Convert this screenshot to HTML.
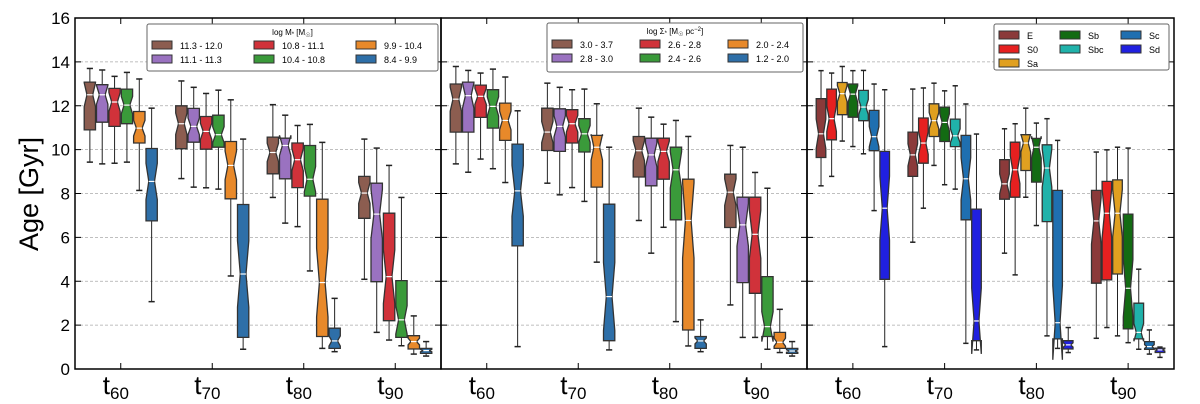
<!DOCTYPE html>
<html><head><meta charset="utf-8"><style>
body{margin:0;background:#fff;}
svg{display:block;font-family:"Liberation Sans","DejaVu Sans",sans-serif;}
</style></head><body>
<svg id="chart" width="1200" height="404" viewBox="0 0 1200 404"></svg>
<script>
// ---- data: [whiskerLow, q1, median, q3, whiskerHigh] per group (t60,t70,t80,t90) per series ----
const categories = ["60","70","80","90"];
const massLabels = ["11.3 - 12.0","11.1 - 11.3","10.8 - 11.1","10.4 - 10.8","9.9 - 10.4","8.4 - 9.9"];
const massData = [
 [[9.43,10.9,12.5,13.08,13.7],[8.68,10.04,11.18,12.0,13.13],[7.82,8.9,9.87,10.57,12.05],[4.09,6.87,8.02,8.78,10.48]],
 [[9.35,11.25,12.5,12.96,13.63],[8.29,10.34,11.06,11.88,12.84],[6.65,8.67,10.19,10.52,11.57],[1.67,3.98,7.06,8.47,10.07]],
 [[9.38,11.06,12.17,12.79,13.34],[8.26,10.02,10.83,11.51,12.56],[6.49,8.27,9.54,10.3,11.1],[1.32,2.2,4.21,7.1,9.28]],
 [[9.43,11.18,12.03,12.76,13.52],[8.2,10.11,10.68,11.57,12.71],[4.47,7.88,8.65,10.19,11.15],[1.06,1.44,2.24,4.03,7.82]],
 [[8.14,10.3,10.98,11.74,13.22],[4.24,7.76,9.28,10.37,12.27],[0.94,1.48,3.94,7.74,10.33],[0.68,0.91,1.25,1.52,2.42]],
 [[3.07,6.75,8.55,10.05,11.89],[0.9,1.44,4.33,7.5,10.48],[0.79,0.94,1.28,1.86,3.22],[0.59,0.71,0.84,0.94,1.25]]
];
const densLabels = ["3.0 - 3.7","2.8 - 3.0","2.6 - 2.8","2.4 - 2.6","2.0 - 2.4","1.2 - 2.0"];
const densData = [
 [[9.35,10.8,12.3,12.99,13.79],[8.47,9.96,10.8,11.89,13.03],[6.77,8.75,9.95,10.6,11.89],[2.92,6.45,8.06,8.88,10.19]],
 [[8.97,10.8,12.46,13.08,13.61],[7.94,9.92,11.06,11.86,12.84],[5.28,8.35,9.76,10.52,11.48],[1.44,3.94,6.57,7.83,10.11]],
 [[9.57,11.47,12.43,12.94,13.49],[8.27,10.3,11.18,11.82,12.73],[6.46,8.65,9.92,10.52,11.16],[1.44,3.45,6.14,7.83,8.96]],
 [[9.13,10.98,11.97,12.73,13.67],[7.64,9.89,10.72,11.41,12.76],[2.16,6.8,9.08,10.11,11.33],[0.9,1.48,1.93,4.21,8.24]],
 [[8.5,10.42,11.33,12.12,13.31],[4.87,8.29,10.11,10.65,12.09],[1.05,1.78,6.77,8.65,10.6],[0.75,0.94,1.22,1.67,2.72]],
 [[1.02,5.61,8.12,10.25,11.77],[0.87,1.29,3.3,7.51,10.11],[0.79,0.94,1.28,1.48,2.24],[0.59,0.71,0.82,0.94,1.25]]
];
const morphLabels = ["E","S0","Sa","Sb","Sbc","Sc","Sd"];
const morphData = [
 [[8.35,9.64,10.72,12.32,13.6],[5.78,8.78,9.76,10.8,12.76],[5.28,7.74,8.44,9.54,10.95],[1.4,3.91,6.75,8.14,9.89]],
 [[8.78,10.45,11.41,12.76,13.49],[7.33,9.38,10.3,11.44,12.81],[4.29,7.83,9.08,10.34,11.18],[1.89,4.06,7.1,8.55,9.99]],
 [[10.39,11.59,12.55,13.06,13.79],[9.28,10.6,11.32,12.09,13.03],[7.83,9.05,10.3,10.68,11.89],[1.51,4.33,7.1,8.62,10.11]],
 [[10.14,11.48,12.53,12.99,13.6],[8.4,10.37,11.24,11.94,12.68],[6.54,8.52,10.11,10.51,11.21],[1.2,1.83,3.68,7.06,10.07]],
 [[9.81,11.32,11.94,12.7,13.61],[8.2,10.14,10.63,11.39,12.91],[1.51,6.72,9.16,10.22,11.41],[0.9,1.37,1.67,3.0,4.55]],
 [[7.22,9.95,10.59,11.79,12.99],[1.17,6.8,8.67,10.65,12.08],[0.94,1.37,2.11,8.14,10.42],[0.68,0.9,1.02,1.25,1.78]],
 [[1.02,4.09,7.33,9.92,12.73],[0.87,1.29,2.19,7.29,10.71],[0.75,0.91,1.1,1.29,1.89],[0.53,0.75,0.87,0.95,1.0]]
];
const yTicks = [0,2,4,6,8,10,12,14,16];

const c6 = ["#8c5d50","#9a72c0","#d0323a","#3a9a3a","#e8892a","#2e6fa8"];
const c7 = ["#8b3a3a","#e62020","#e0a020","#136b13","#20b2aa","#1f6fb0","#2020e0"];
const NS="http://www.w3.org/2000/svg";
const svg=document.getElementById('chart');
function mk(tag,attrs,parent){const e=document.createElementNS(NS,tag);for(const k in attrs)e.setAttribute(k,attrs[k]);(parent||svg).appendChild(e);return e;}
const top0=18,bot0=369;
function yS(v){return bot0-(v/16)*(bot0-top0);}

const panels=[
 {x0:75,x1:441,data:massData,labels:massLabels,colors:c6,name:'stellar-mass',title:'log M<tspan font-size="6" dy="1">*</tspan><tspan dy="-1"> [M</tspan><tspan font-size="6" dy="2">☉</tspan><tspan dy="-2">]</tspan>',lg:{x:147,y:24,w:291,h:47,colW:102},cols:[0,0,1,1,2,2],rows:[0,1,0,1,0,1]},
 {x0:441,x1:807,data:densData,labels:densLabels,colors:c6,name:'surface-density',title:'log Σ<tspan font-size="6" dy="1">*</tspan><tspan dy="-1"> [M</tspan><tspan font-size="6" dy="2">☉</tspan><tspan dy="-2"> pc</tspan><tspan font-size="6" dy="-3">−2</tspan><tspan dy="3">]</tspan>',lg:{x:547,y:23,w:256,h:49,colW:88},cols:[0,0,1,1,2,2],rows:[0,1,0,1,0,1]},
 {x0:807,x1:1174,data:morphData,labels:morphLabels,colors:c7,name:'morphology',title:null,lg:{x:994,y:24,w:175,h:46,colW:61},cols:[0,0,0,1,1,2,2],rows:[0,1,2,0,1,0,1]}
];

// y-axis title
const yt=mk('text',{x:38,y:194,'font-size':27,'text-anchor':'middle',transform:'rotate(-90 38 194)',fill:'#000'});
yt.textContent='Age [Gyr]';



panels.forEach((p,pi)=>{
  const g=mk('g',{});
  
  
  const unit=(p.x1-p.x0)/4;
  const xS=i=>p.x0+(i+0.5)*unit;
  yTicks.forEach(t=>{ if(t>0&&t<16){const l=mk('line',{x1:p.x0,x2:p.x1,y1:yS(t),y2:yS(t),stroke:'#aaa','stroke-width':0.8,'stroke-dasharray':'3,2'},g);
    
    }});
  yTicks.forEach(t=>{const y=yS(t);
    mk('line',{x1:p.x0,x2:p.x0+6,y1:y,y2:y,stroke:'#000','stroke-width':1},g);
    mk('line',{x1:p.x1-6,x2:p.x1,y1:y,y2:y,stroke:'#000','stroke-width':1},g);
    if(pi===0){const tx=mk('text',{x:p.x0-5,y:y+6,'font-size':17,'text-anchor':'end'},g);tx.textContent=t;
      
      }
  });
  categories.forEach((c,i)=>{const x=xS(i);
    mk('line',{x1:x,x2:x,y1:bot0,y2:bot0-6,stroke:'#000','stroke-width':1},g);
    mk('line',{x1:x,x2:x,y1:top0,y2:top0+6,stroke:'#000','stroke-width':1},g);
    const tx=mk('text',{x:x-18,y:394,'font-size':26},g);
    tx.innerHTML='t<tspan font-size="17" dy="5">'+c+'</tspan>';
    
    
  });
  const ns=p.data.length, span=0.81*unit, bw=span/ns;
  p.data.forEach((ser,si)=>{
    ser.forEach((d,ci)=>{
      const cx=xS(ci)-span/2+(si+0.5)*bw;
      const [wl,q1,md,q3,wh]=d;
      const L=cx-bw/2+0.5,R=cx+bw/2-0.5,ins=(R-L)*0.25;
      const nh=0.25*(q3-q1);
      const bg=mk('g',{},g);
      
      
      mk('line',{x1:cx,x2:cx,y1:yS(q3),y2:yS(wh),stroke:'#222','stroke-width':1},bg);
      mk('line',{x1:cx,x2:cx,y1:yS(q1),y2:yS(wl),stroke:'#222','stroke-width':1},bg);
      mk('line',{x1:cx-bw/4,x2:cx+bw/4,y1:yS(wh),y2:yS(wh),stroke:'#222','stroke-width':1.5},bg);
      mk('line',{x1:cx-bw/4,x2:cx+bw/4,y1:yS(wl),y2:yS(wl),stroke:'#222','stroke-width':1.5},bg);
      const pts=[[L,q1],[R,q1],[R,md-nh],[R-ins,md],[R,md+nh],[R,q3],[L,q3],[L,md+nh],[L+ins,md],[L,md-nh]];
      mk('polygon',{points:pts.map(q=>q[0].toFixed(1)+','+yS(q[1]).toFixed(1)).join(' '),fill:p.colors[si],stroke:'#333','stroke-width':1.3},bg);
      mk('line',{x1:L+ins,x2:R-ins,y1:yS(md),y2:yS(md),stroke:'#fff','stroke-width':1.2},bg);
    });
  });
  mk('rect',{x:p.x0,y:top0,width:p.x1-p.x0,height:bot0-top0,fill:'none',stroke:'#000','stroke-width':1.5},g);
  const lg=p.lg;
  const lgG=mk('g',{},g);
  
  
  mk('rect',{x:lg.x,y:lg.y,width:lg.w,height:lg.h,fill:'#fff',stroke:'#666','stroke-width':1,rx:2},lgG);
  let rowY0=lg.y+6, rowH=14;
  if(p.title){const tt=mk('text',{x:lg.x+lg.w/2,y:lg.y+11,'font-size':8,'text-anchor':'middle'},lgG);tt.innerHTML=p.title;rowY0=lg.y+16;}
  p.labels.forEach((lab,k)=>{
    const col=p.cols[k], row=p.rows[k];
    const ex=lg.x+5+col*lg.colW, ey=rowY0+row*rowH;
    const e=mk('g',{},lgG);
    
    
    mk('rect',{x:ex,y:ey+1,width:20,height:8,fill:p.colors[k],stroke:'#333','stroke-width':1},e);
    const t=mk('text',{x:ex+28,y:ey+9,'font-size':9},e);t.textContent=lab;
  });
});
</script>
</body></html>
